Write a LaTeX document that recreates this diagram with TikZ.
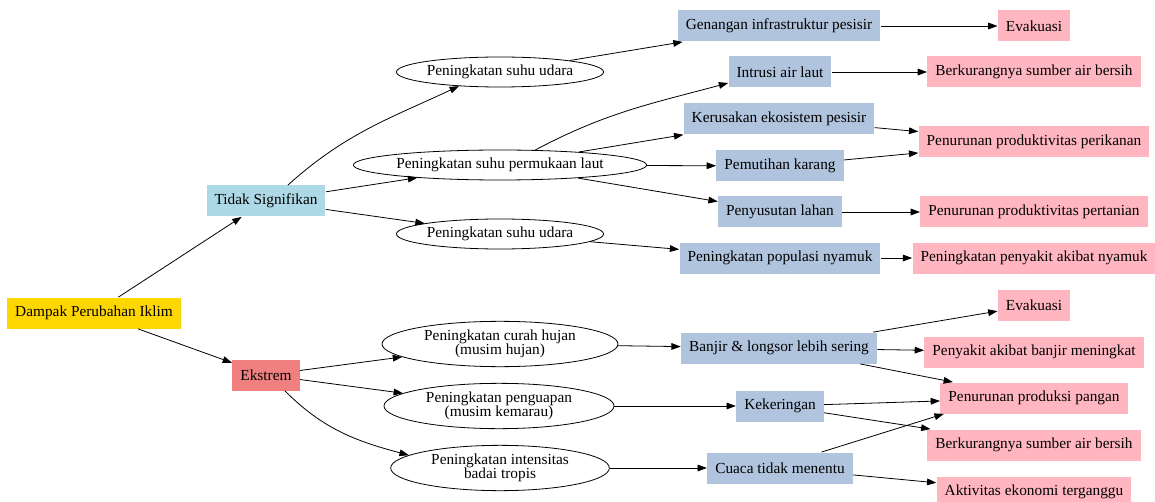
\documentclass[tikz,border=0pt]{standalone}
\usepackage{fontspec}
\setmainfont{Liberation Serif}
\usetikzlibrary{arrows.meta,shapes.geometric}
\definecolor{rootgold}{HTML}{FFD700}
\definecolor{signode}{HTML}{ADD8E6}
\definecolor{ekstremnode}{HTML}{F08080}
\definecolor{steelnode}{HTML}{B0C4DE}
\definecolor{pinknode}{HTML}{FFB6C1}
\newcommand{\nodesize}{\fontsize{11.5pt}{10.5pt}\selectfont}

\begin{document}
\begin{tikzpicture}[x=0.75pt,y=-0.75pt,
    rect/.style={minimum height=23.25pt,inner xsep=6pt,inner ysep=2pt,font=\nodesize},
    ell/.style={draw,ellipse,inner sep=0pt,minimum height=22.5pt,font=\nodesize},
    ell2/.style={ell,align=center,minimum height=34pt,minimum width=#1},
    >={Stealth[inset=0pt,length=7pt,width=5pt]},line width=0.6pt]
 \useasboundingbox (0,0) rectangle (1155,502);
 % root and the two branches
 \path[nodes=rect]
 node[fill=rootgold](dampak) at (94,313){Dampak Perubahan Iklim}
 node[fill=signode](tidak) at (266,201){Tidak Signifikan}
 node[fill=ekstremnode](ekstrem) at (266,375){Ekstrem};
 % causes
 \path[nodes=ell]
 node(udara1) at (500,72){Peningkatan suhu udara}
 node(laut) at (500,165){Peningkatan suhu permukaan laut}
 node(udara2) at (500,234){Peningkatan suhu udara}
 node[ell2=177pt](hujan) at (500,344){Peningkatan curah hujan\\(musim hujan)}
 node[ell2=172.5pt](uap) at (499,406){Peningkatan penguapan\\(musim kemarau)}
 node[ell2=164pt](badai) at (500,468){Peningkatan intensitas\\badai tropis};
 % effects
 \path[nodes={rect,fill=steelnode}]
 node(genangan) at (779,26){Genangan infrastruktur pesisir}
 node(intrusi) at (780,72){Intrusi air laut}
 node(ekosistem) at (779,119){Kerusakan ekosistem pesisir}
 node(karang) at (780,166){Pemutihan karang}
 node(lahan) at (780,212){Penyusutan lahan}
 node(nyamuk) at (780,258){Peningkatan populasi nyamuk}
 node(banjir) at (779,348){Banjir \& longsor lebih sering}
 node(kering) at (780,406){Kekeringan}
 node(cuaca) at (780,468){Cuaca tidak menentu};
 % consequences
 \path[nodes={rect,fill=pinknode}]
 node(evak1) at (1034,26){Evakuasi}
 node(air1) at (1034,72){Berkurangnya sumber air bersih}
 node(ikan) at (1034,142){Penurunan produktivitas perikanan}
 node(tani) at (1034,212){Penurunan produktivitas pertanian}
 node(sakit1) at (1034,258){Peningkatan penyakit akibat nyamuk}
 node(evak2) at (1034,305){Evakuasi}
 node(sakit2) at (1034,352){Penyakit akibat banjir meningkat}
 node(pangan) at (1034,398){Penurunan produksi pangan}
 node(air2) at (1034,445){Berkurangnya sumber air bersih}
 node(ekonomi) at (1034,492){Aktivitas ekonomi terganggu};

 \draw[->] (dampak) -- (tidak);
 \draw[->] (dampak) -- (ekstrem);
 \draw[->] (tidak.36) to[out=42,in=205] (udara1.199);
 \draw[->] (tidak) -- (laut);
 \draw[->] (tidak) -- (udara2);
 \draw[->] (ekstrem) -- (hujan);
 \draw[->] (ekstrem) -- (uap);
 \draw[->] (ekstrem.-40) to[out=-45,in=165] (badai.172);

 \draw[->] (udara1) -- (genangan);
 \draw[->] (laut.23) to[out=28,in=195] (intrusi.192);
 \draw[->] (laut) -- (ekosistem);
 \draw[->] (laut) -- (karang);
 \draw[->] (laut) -- (lahan);
 \draw[->] (udara2) -- (nyamuk);
 \draw[->] (hujan) -- (banjir);
 \draw[->] (uap) -- (kering);
 \draw[->] (badai) -- (cuaca);

 \draw[->] (genangan) -- (evak1);
 \draw[->] (intrusi) -- (air1);
 \draw[->] (ekosistem) -- (ikan);
 \draw[->] (karang) -- (ikan);
 \draw[->] (lahan) -- (tani);
 \draw[->] (nyamuk) -- (sakit1);
 \draw[->] (banjir) -- (evak2);
 \draw[->] (banjir) -- (sakit2);
 \draw[->] (banjir) -- (pangan);
 \draw[->] (kering) -- (pangan);
 \draw[->] (kering) -- (air2);
 \draw[->] (cuaca.21) -- (pangan.190);
 \draw[->] (cuaca) -- (ekonomi);
\end{tikzpicture}
\end{document}
